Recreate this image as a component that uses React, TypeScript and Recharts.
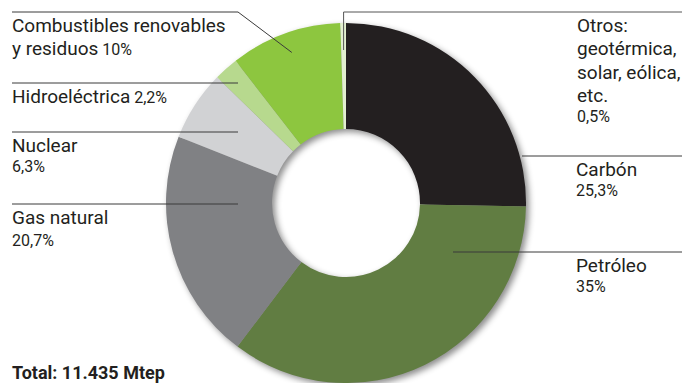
import React from 'react';
import { PieChart, Pie, Cell } from 'recharts';

// Energy mix, clockwise from 12 o'clock
const categories = ['Carbón', 'Petróleo', 'Gas natural', 'Nuclear', 'Hidroeléctrica', 'Combustibles renovables y residuos', 'Otros'];
const shares = [25.3, 35, 20.7, 6.3, 2.2, 10, 0.5];
const shareLabels = ['25,3%', '35%', '20,7%', '6,3%', '2,2%', '10%', '0,5%'];
const labelLines = [
  ['Carbón'],
  ['Petróleo'],
  ['Gas natural'],
  ['Nuclear'],
  ['Hidroeléctrica'],
  ['Combustibles renovables', 'y residuos'],
  ['Otros:', 'geotérmica,', 'solar, eólica,', 'etc.'],
];
const totalLabel = 'Total: 11.435 Mtep';

const COLORS = ['#231f20', '#617d42', '#808184', '#d1d2d4', '#b7d98e', '#8dc63f', '#e2efd0'];

const data = categories.map((name, i) => ({ name, value: shares[i], pct: shareLabels[i], lines: labelLines[i] }));

const W = 682;
const H = 383;
const CX = 346;
const CY = 203;
const TEXT = '#231f20';
const FONT = 'Roboto, sans-serif';

// where each label sits (layout only)
type Layout = {
  x: number;
  baselines: number[];
  pctInline?: boolean;
  line: 'left' | 'right' | 'diag' | 'top';
  lineY: number;
  lineX1: number;
  lineX2: number;
  anchorR?: number;
};
const LAYOUT: Layout[] = [
  { x: 576, baselines: [176, 196], line: 'right', lineY: 156, lineX1: 522, lineX2: 682 },
  { x: 576, baselines: [272, 292], line: 'right', lineY: 252, lineX1: 453, lineX2: 682 },
  { x: 12, baselines: [224, 246], line: 'left', lineY: 204, lineX1: 12, lineX2: 238 },
  { x: 12, baselines: [152, 172], line: 'left', lineY: 132, lineX1: 12, lineX2: 238 },
  { x: 12, baselines: [103], pctInline: true, line: 'left', lineY: 83, lineX1: 12, lineX2: 238 },
  { x: 12, baselines: [32, 55], pctInline: true, line: 'diag', lineY: 12, lineX1: 12, lineX2: 238, anchorR: 160 },
  { x: 577, baselines: [32, 55, 79, 102, 122], line: 'top', lineY: 12, lineX1: 0, lineX2: 682, anchorR: 153 },
];

const RADIAN = Math.PI / 180;

const renderLabel = (props: any) => {
  const { index, cx, cy, midAngle, payload } = props;
  const lay = LAYOUT[index];
  const lines: string[] = payload?.lines ?? data[index].lines;
  const pct: string = payload?.pct ?? data[index].pct;
  const stroke = '#3a3a3a';

  let leader: React.ReactNode = null;
  if (lay.line === 'left' || lay.line === 'right') {
    leader = <line x1={lay.lineX1} y1={lay.lineY} x2={lay.lineX2} y2={lay.lineY} stroke={stroke} strokeWidth={1} />;
  } else {
    const r = lay.anchorR ?? 150;
    const ax = cx + r * Math.cos(-midAngle * RADIAN);
    const ay = cy + r * Math.sin(-midAngle * RADIAN);
    if (lay.line === 'diag') {
      leader = (
        <polyline
          points={`${lay.lineX1},${lay.lineY} ${lay.lineX2},${lay.lineY} ${ax},${ay}`}
          fill="none"
          stroke={stroke}
          strokeWidth={1}
        />
      );
    } else {
      leader = (
        <polyline
          points={`${ax},${ay} ${ax},${lay.lineY} ${lay.lineX2},${lay.lineY}`}
          fill="none"
          stroke="#555"
          strokeWidth={1}
        />
      );
    }
  }

  return (
    <g>
      {leader}
      {lines.map((t, i) => (
        <text key={i} x={lay.x} y={lay.baselines[i]} fill={TEXT} fontSize={19} fontFamily={FONT}>
          {t}
          {lay.pctInline && i === lines.length - 1 ? <tspan fontSize={16}>{' ' + pct}</tspan> : null}
        </text>
      ))}
      {!lay.pctInline ? (
        <text x={lay.x} y={lay.baselines[lines.length]} fill={TEXT} fontSize={16} fontFamily={FONT}>
          {pct}
        </text>
      ) : null}
    </g>
  );
};

const App: React.FC = () => {
  return (
    <div style={{ width: W, height: H, position: 'relative', background: '#fff', overflow: 'hidden' }}>
      <style>{'body{margin:0}'}</style>
      {/* ring, with soft shadow to the lower right */}
      <div style={{ position: 'absolute', left: 0, top: 0, filter: 'drop-shadow(3px 3px 3px rgba(0,0,0,0.45))' }}>
        <PieChart width={W} height={H} margin={{ top: 0, right: 0, bottom: 0, left: 0 }}>
          <Pie
            data={data}
            dataKey="value"
            nameKey="name"
            cx={CX}
            cy={CY}
            innerRadius={74}
            outerRadius={180}
            startAngle={90}
            endAngle={-270}
            stroke="none"
            isAnimationActive={false}
          >
            {data.map((entry, index) => (
              <Cell key={`cell-${index}`} fill={COLORS[index]} />
            ))}
          </Pie>
        </PieChart>
      </div>
      {/* labels and leader lines */}
      <div style={{ position: 'absolute', left: 0, top: 0 }}>
        <PieChart width={W} height={H} margin={{ top: 0, right: 0, bottom: 0, left: 0 }}>
          <Pie
            data={data}
            dataKey="value"
            nameKey="name"
            cx={CX}
            cy={CY}
            innerRadius={74}
            outerRadius={180}
            startAngle={90}
            endAngle={-270}
            fill="none"
            stroke="none"
            labelLine={false}
            label={renderLabel}
            isAnimationActive={false}
          />
        </PieChart>
      </div>
      <div
        style={{
          position: 'absolute',
          left: 12,
          top: 362,
          fontFamily: FONT,
          fontWeight: 700,
          fontSize: 18,
          color: TEXT,
          lineHeight: '21px',
        }}
      >
        {totalLabel}
      </div>
    </div>
  );
};

export default App;
